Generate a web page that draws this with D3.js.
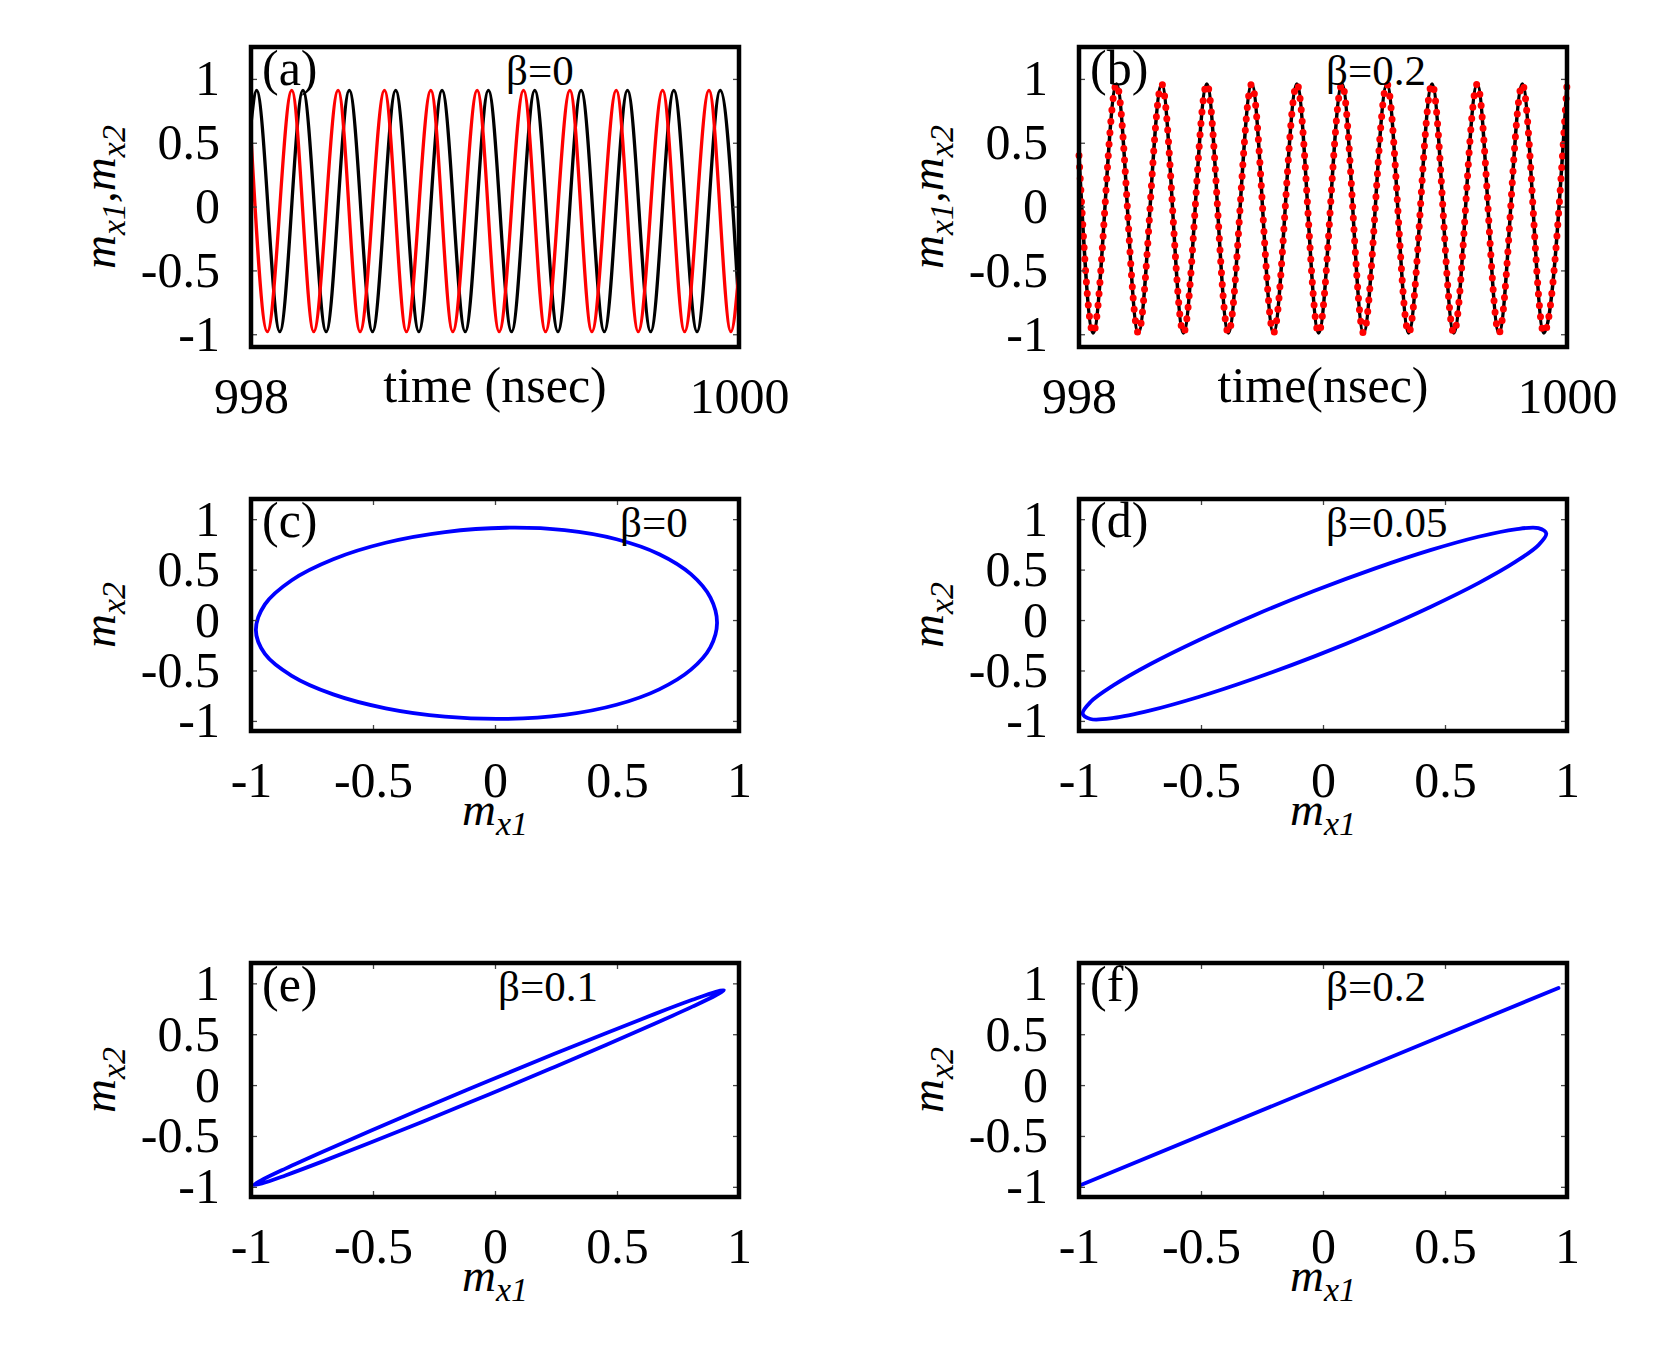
<!DOCTYPE html>
<html><head><meta charset="utf-8">
<script src="https://cdn.jsdelivr.net/npm/d3@7"></script>
<style>body{margin:0;background:#fff} svg{display:block;background:#fff}</style>
</head><body>
<svg id="chart" width="1661" height="1364"></svg>
<script>
// ---------------- data ----------------
const timeTicks = [998, 1000];
const mTicks = [-1, -0.5, 0, 0.5, 1];

// (a) beta = 0 : extrema of m_x1 (black) and m_x2 (red) vs time (ns)
const a_mx1 = [[998.000,0.65],[998.023,0.91],[998.118,-0.98],[998.213,0.91],[998.308,-0.98],
  [998.403,0.91],[998.498,-0.98],[998.593,0.91],[998.688,-0.98],[998.783,0.91],[998.878,-0.98],
  [998.973,0.91],[999.068,-0.98],[999.163,0.91],[999.258,-0.98],[999.353,0.91],[999.448,-0.98],
  [999.543,0.91],[999.638,-0.98],[999.733,0.91],[999.828,-0.98],[999.923,0.91],[1000.000,-0.82]];
const a_mx2 = [[998.000,0.55],[998.067,-0.98],[998.167,0.91],[998.257,-0.98],[998.357,0.91],
  [998.447,-0.98],[998.547,0.91],[998.637,-0.98],[998.737,0.91],[998.827,-0.98],[998.927,0.91],
  [999.017,-0.98],[999.117,0.91],[999.207,-0.98],[999.307,0.91],[999.397,-0.98],[999.497,0.91],
  [999.587,-0.98],[999.687,0.91],[999.777,-0.98],[999.877,0.91],[999.967,-0.98],[1000.000,-0.50]];

// (b) beta = 0.2 : both oscillators synchronized
const b_mx1 = [[998.000,0.40],[998.058,-0.99],[998.154,0.96],[998.243,-0.99],[998.339,0.96],
  [998.428,-0.99],[998.524,0.96],[998.612,-0.99],[998.708,0.96],[998.797,-0.99],[998.893,0.96],
  [998.982,-0.99],[999.078,0.96],[999.166,-0.99],[999.262,0.96],[999.351,-0.99],[999.447,0.96],
  [999.536,-0.99],[999.632,0.96],[999.721,-0.99],[999.817,0.96],[999.905,-0.99],[1000.000,0.96]];
const b_mx2 = [[998.000,0.40],[998.058,-0.99],[998.154,0.96],[998.243,-0.99],[998.339,0.96],
  [998.428,-0.99],[998.524,0.96],[998.612,-0.99],[998.708,0.96],[998.797,-0.99],[998.893,0.96],
  [998.982,-0.99],[999.078,0.96],[999.166,-0.99],[999.262,0.96],[999.351,-0.99],[999.447,0.96],
  [999.536,-0.99],[999.632,0.96],[999.721,-0.99],[999.817,0.96],[999.905,-0.99],[1000.000,0.96]];

// (c)-(f): phase portraits m_x2 vs m_x1 (points around each loop)
const c_loop = [[0.910,-0.030],[0.883,0.222],[0.803,0.455],[0.673,0.653],[0.498,0.801],[0.285,0.891],
  [0.045,0.915],[-0.205,0.872],[-0.448,0.766],[-0.663,0.603],[-0.833,0.395],[-0.943,0.155],
  [-0.980,-0.100],[-0.943,-0.336],[-0.833,-0.553],[-0.663,-0.737],[-0.448,-0.875],[-0.205,-0.958],
  [0.045,-0.980],[0.285,-0.940],[0.498,-0.840],[0.673,-0.687],[0.803,-0.492],[0.883,-0.268]];
const d_loop = [[0.915,0.858],[0.883,0.743],[0.788,0.576],[0.637,0.366],[0.440,0.130],[0.211,-0.118],
  [-0.035,-0.360],[-0.281,-0.580],[-0.510,-0.763],[-0.707,-0.896],[-0.858,-0.971],[-0.953,-0.981],
  [-0.985,-0.928],[-0.953,-0.813],[-0.858,-0.646],[-0.707,-0.436],[-0.510,-0.200],[-0.281,0.048],
  [-0.035,0.290],[0.211,0.510],[0.440,0.693],[0.637,0.826],[0.788,0.900],[0.883,0.911]];
const e_loop = [[0.938,0.933],[0.905,0.883],[0.809,0.771],[0.656,0.605],[0.457,0.396],[0.224,0.158],
  [-0.025,-0.092],[-0.274,-0.338],[-0.507,-0.562],[-0.706,-0.750],[-0.859,-0.888],[-0.955,-0.967],
  [-0.988,-0.983],[-0.955,-0.933],[-0.859,-0.821],[-0.706,-0.655],[-0.507,-0.446],[-0.274,-0.208],
  [-0.025,0.042],[0.224,0.288],[0.457,0.512],[0.656,0.700],[0.809,0.838],[0.905,0.917]];
const f_line = [[-0.99,-0.98],[0.965,0.955]];

const panelLetters = ["(a)","(b)","(c)","(d)","(e)","(f)"];
const betaLabels = ["β=0","β=0.2","β=0","β=0.05","β=0.1","β=0.2"];

// ---------------- drawing ----------------
const svg = d3.select('#chart');
const FONT = '"Liberation Serif","Times New Roman",serif';
const cols = [[251,739],[1079,1567]];
const rows = [[47,347],[499,731],[963,1197]];
const betaOffsets = [255,247,369,247,247,247];

function panel(i, cfg){
  const [x0,x1] = cols[i%2], [y0,y1] = rows[Math.floor(i/2)];
  const g = svg.append('g');
  const x = d3.scaleLinear().domain(cfg.xd).range([x0,x1]);
  const y = d3.scaleLinear().domain(cfg.yd).range([y1,y0]);
  cfg.draw(g,x,y);
  // inner ticks on all four sides
  const tk = (axis, tx, ty) => {
    const a = g.append('g').attr('transform',`translate(${tx},${ty})`).call(axis);
    a.select('.domain').remove();
    a.selectAll('text').remove();
    a.selectAll('line').attr('stroke','#444').attr('stroke-width',1.3);
  };
  tk(d3.axisRight(y).tickValues(mTicks).tickSize(6), x0, 0);
  tk(d3.axisLeft(y).tickValues(mTicks).tickSize(6), x1, 0);
  tk(d3.axisTop(x).tickValues(cfg.xt).tickSize(6), 0, y1);
  tk(d3.axisBottom(x).tickValues(cfg.xt).tickSize(6), 0, y0);
  // tick labels
  const yl = g.append('g').attr('transform',`translate(${x0},0)`)
    .call(d3.axisLeft(y).tickValues(mTicks).tickSize(0).tickPadding(31).tickFormat(d=>String(d)));
  yl.select('.domain').remove();
  yl.attr('font-family',FONT).attr('font-size',50);
  const xl = g.append('g').attr('transform',`translate(0,${y1})`)
    .call(d3.axisBottom(x).tickValues(cfg.xt).tickSize(0).tickPadding(30).tickFormat(d=>String(d)));
  xl.select('.domain').remove();
  xl.attr('font-family',FONT).attr('font-size',50);
  g.selectAll('.tick text').attr('fill','#000');
  // frame
  g.append('rect').attr('x',x0).attr('y',y0).attr('width',x1-x0).attr('height',y1-y0)
    .attr('fill','none').attr('stroke','#000').attr('stroke-width',4.5);
  // panel letter and beta label
  g.append('text').attr('x',x0+11).attr('y',y0+38).attr('font-family',FONT).attr('font-size',50)
    .text(panelLetters[i]);
  g.append('text').attr('x',x0+betaOffsets[i]).attr('y',y0+38).attr('font-family',FONT).attr('font-size',43)
    .text(betaLabels[i]);
  // x title
  const xt = g.append('text').attr('x',(x0+x1)/2).attr('y',cfg.xTitleY).attr('text-anchor','middle')
    .attr('font-family',FONT).attr('font-size',cfg.xTitleSize);
  cfg.xTitle(xt);
  // y title
  const yt = g.append('text').attr('transform',`translate(${x0-136},${(y0+y1)/2}) rotate(-90)`)
    .attr('text-anchor','middle').attr('font-family',FONT).attr('font-size',47).attr('font-style','italic');
  cfg.yTitle(yt);
}

function mSub(t, sub){ // m with subscript (baseline left lowered)
  t.append('tspan').text('m');
  t.append('tspan').attr('dy',10).attr('font-size',34).text(sub);
}
const yTime = t => { mSub(t,'x1'); t.append('tspan').attr('dy',-10).text(','); mSub(t,'x2'); };
const yM2 = t => mSub(t,'x2');
const xM1 = t => { t.attr('font-style','italic').attr('font-size',47); mSub(t,'x1'); };

const tline = (x,y) => d3.line().x(d=>x(d[0])).y(d=>y(d[1])).curve(d3.curveMonotoneX);
const loop = (x,y) => d3.line().x(d=>x(d[0])).y(d=>y(d[1])).curve(d3.curveCatmullRomClosed.alpha(0.5));

panel(0,{xd:[998,1000], yd:[-1.1,1.25], xt:timeTicks, xTitleY:402, xTitleSize:50,
  xTitle:t=>t.text('time (nsec)'), yTitle:yTime,
  draw:(g,x,y)=>{
    g.append('path').attr('d',tline(x,y)(a_mx1)).attr('fill','none').attr('stroke','#000').attr('stroke-width',3.3);
    g.append('path').attr('d',tline(x,y)(a_mx2)).attr('fill','none').attr('stroke','#ff0000').attr('stroke-width',3.3);
  }});
panel(1,{xd:[998,1000], yd:[-1.1,1.25], xt:timeTicks, xTitleY:402, xTitleSize:50,
  xTitle:t=>t.text('time(nsec)'), yTitle:yTime,
  draw:(g,x,y)=>{
    g.append('path').attr('d',tline(x,y)(b_mx1)).attr('fill','none').attr('stroke','#000').attr('stroke-width',3.5);
    g.append('path').attr('d',tline(x,y)(b_mx2)).attr('fill','none').attr('stroke','#ff0000')
      .attr('stroke-width',7).attr('stroke-linecap','round').attr('stroke-dasharray','0 11.5');
  }});
const loopPanel = (i,data,closed) => panel(i,{xd:[-1,1], yd:[-1.1,1.2], xt:mTicks,
  xTitleY: rows[Math.floor(i/2)][1]+94, xTitleSize:47, xTitle:xM1, yTitle:yM2,
  draw:(g,x,y)=>{
    const gen = closed ? loop(x,y) : d3.line().x(d=>x(d[0])).y(d=>y(d[1]));
    g.append('path').attr('d',gen(data)).attr('fill','none').attr('stroke','#0000ff')
      .attr('stroke-width',3.8).attr('stroke-linecap','round');
  }});
loopPanel(2,c_loop,true);
loopPanel(3,d_loop,true);
loopPanel(4,e_loop,true);
loopPanel(5,f_line,false);
</script>
</body></html>
